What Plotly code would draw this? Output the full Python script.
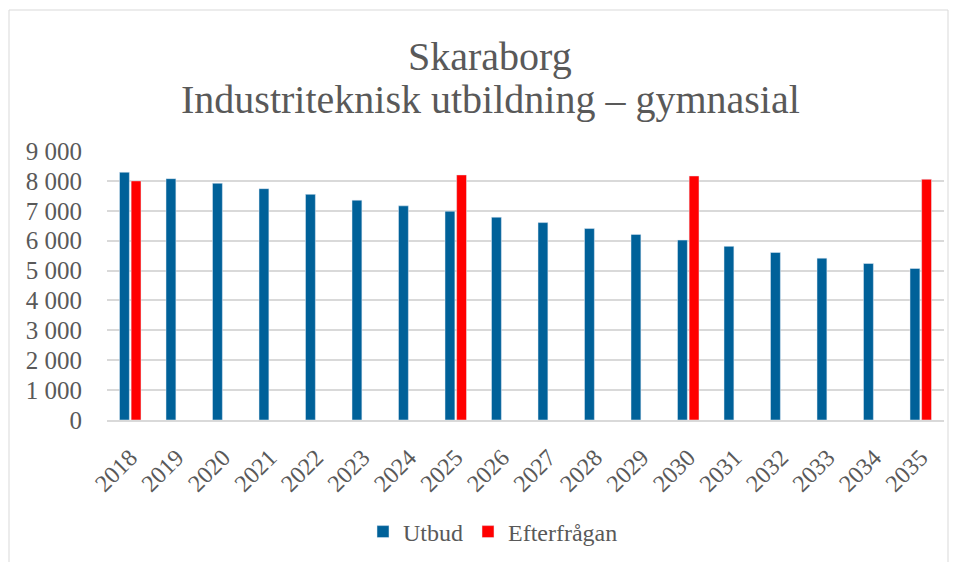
import plotly.graph_objects as go

years = [str(y) for y in range(2018, 2036)]
utbud = [8290, 8075, 7920, 7740, 7550, 7355, 7165, 6985, 6785, 6605,
         6405, 6210, 6020, 5810, 5605, 5415, 5235, 5070]
efterfragan = [8000, None, None, None, None, None, None, 8200, None, None,
               None, None, 8165, None, None, None, None, 8055]
y_ticks = [0, 1000, 2000, 3000, 4000, 5000, 6000, 7000, 8000, 9000]
y_tick_labels = ["0", "1 000", "2 000", "3 000", "4 000", "5 000",
                 "6 000", "7 000", "8 000", "9 000"]
title_lines = ["Skaraborg", "Industriteknisk utbildning – gymnasial"]

FONT = "Liberation Serif"
GRAY = "#595959"
OFF = 8  # page body margin offset

fig = go.Figure()
fig.add_trace(go.Bar(x=years, y=utbud, name="Utbud", marker_color="#006199"))
fig.add_trace(go.Bar(x=years, y=efterfragan, name="Efterfrågan", marker_color="#FF0000"))

W, H = 960, 562
# target screen coordinates of the plot area
SL, SR, ST, SB = 107, 944, 151, 420
L, T = SL - OFF, ST - OFF
R, B = W - (SR - OFF), H - (SB - OFF)
pw, ph = W - L - R, H - T - B


def px_x(px):
    return (px - OFF - L) / pw


def px_y(py):
    return (H - B - (py - OFF)) / ph


fig.update_layout(
    width=W, height=H,
    margin=dict(l=L, r=R, t=T, b=B, autoexpand=False),
    paper_bgcolor="white", plot_bgcolor="white",
    barmode="group", bargap=0.5, bargroupgap=0.15,
    font=dict(family=FONT, color=GRAY, size=18),
    legend=dict(orientation="h", x=px_x(493), xanchor="center", y=px_y(532),
                yanchor="middle", font=dict(size=24, color=GRAY), traceorder="normal",
                itemwidth=30),
    showlegend=True,
)
for line, py in zip(title_lines, [56, 100]):
    fig.add_annotation(text=line, xref="paper", yref="paper", x=px_x(490), y=px_y(py),
                       xanchor="center", yanchor="middle", showarrow=False,
                       font=dict(family=FONT, size=40, color=GRAY))

fig.update_xaxes(type="category", tickangle=-45, showgrid=False, showline=True,
                 linecolor="#d9d9d9", linewidth=2, ticks="", automargin=False,
                 tickfont=dict(size=24, color=GRAY), ticklabelstandoff=12)
fig.update_yaxes(range=[0, 9000], tickvals=y_ticks, ticktext=y_tick_labels,
                 showgrid=True, gridcolor="#d9d9d9", gridwidth=1.5,
                 zeroline=False, showline=False, ticks="", automargin=False,
                 tickfont=dict(size=25, color=GRAY), ticklabelstandoff=24)

fig.add_shape(type="rect", xref="paper", yref="paper",
              x0=px_x(9), x1=px_x(948), y0=px_y(600), y1=px_y(10),
              line=dict(color="#d9d9d9", width=1), fillcolor="rgba(0,0,0,0)", layer="below")

fig.write_html("out.html")
